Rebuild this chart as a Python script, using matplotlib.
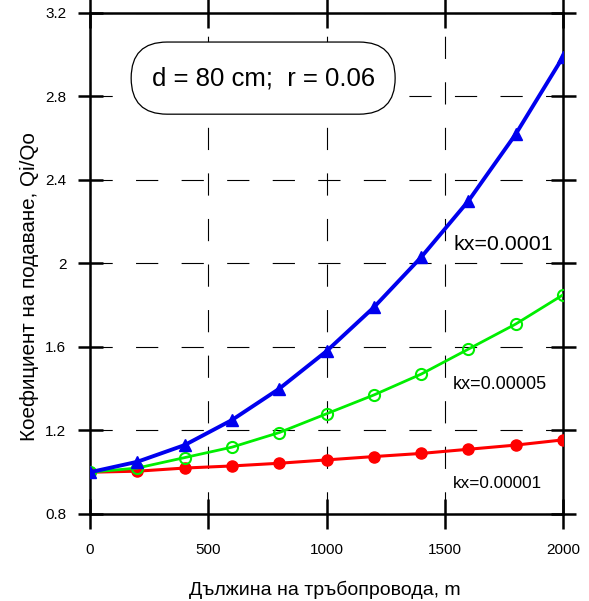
import numpy as np
import matplotlib.pyplot as plt
from matplotlib.patches import FancyBboxPatch

plt.rcParams['font.family'] = ['Liberation Sans', 'DejaVu Sans']

# данни
length = [0, 200, 400, 600, 800, 1000, 1200, 1400, 1600, 1800, 2000]
q_1e4 = [1.0, 1.05, 1.13, 1.25, 1.40, 1.58, 1.79, 2.03, 2.30, 2.62, 2.99]
q_5e5 = [1.0, 1.02, 1.07, 1.12, 1.19, 1.28, 1.37, 1.47, 1.59, 1.71, 1.85]
q_1e5 = [1.0, 1.005, 1.02, 1.03, 1.043, 1.059, 1.075, 1.09, 1.11, 1.13, 1.155]

x_ticks = [0, 500, 1000, 1500, 2000]
y_ticks = [0.8, 1.2, 1.6, 2.0, 2.4, 2.8, 3.2]
y_labels = ['0.8', '1.2', '1.6', '2', '2.4', '2.8', '3.2']

fig = plt.figure(figsize=(5.89, 6.01), dpi=100)
ax = fig.add_axes([0.1528, 0.1448, 0.8032, 0.8336])

ax.plot(length, q_1e5, color='#ff0000', lw=2.2, marker='o', ms=8, zorder=3)
ax.plot(length, q_5e5, color='#00ee00', lw=2.0, marker='o', ms=8,
        mfc='none', mew=1.5, zorder=4)
ax.plot(length, q_1e4, color='#0000ee', lw=2.8, marker='^', ms=8, zorder=5)

ax.set_xlim(0, 2000)
ax.set_ylim(0.8, 3.2)
ax.set_xticks(x_ticks)
ax.set_yticks(y_ticks)
ax.set_yticklabels(y_labels)

ax.grid(True, color='black', lw=0.8, ls=(0, (20, 21)))
for s in ax.spines.values():
    s.set_linewidth(1.8)

ax.tick_params(axis='both', labelsize=11, width=1.8, color='black')
ax.tick_params(axis='y', direction='inout', length=18, pad=8, right=True)
ax.tick_params(axis='x', direction='inout', length=22, pad=10, top=True)

ax.set_xlabel('Дължина на тръбопровода, m', fontsize=14)
ax.set_ylabel('Коефициент на подаване, Qi/Qo', fontsize=14.9)
ax.xaxis.set_label_coords(0.497, -0.134)
ax.yaxis.set_label_coords(-0.108, 0.453)

ax.text(1957, 2.09, 'kx=0.0001', fontsize=15.4, ha='right', va='center')
ax.text(1930, 1.42, 'kx=0.00005', fontsize=13, ha='right', va='center')
ax.text(1910, 0.945, 'kx=0.00001', fontsize=12.3, ha='right', va='center')

box = FancyBboxPatch((0.087, 0.798), 0.558, 0.144, transform=ax.transAxes,
                     boxstyle='round,pad=0,rounding_size=0.076',
                     fc='white', ec='black', lw=0.9, zorder=6,
                     mutation_aspect=0.944)
ax.add_patch(box)
ax.text(0.366, 0.870, 'd = 80 cm;  r = 0.06', transform=ax.transAxes,
        fontsize=18.5, ha='center', va='center', zorder=7)

fig.savefig('out.png', dpi=100)
